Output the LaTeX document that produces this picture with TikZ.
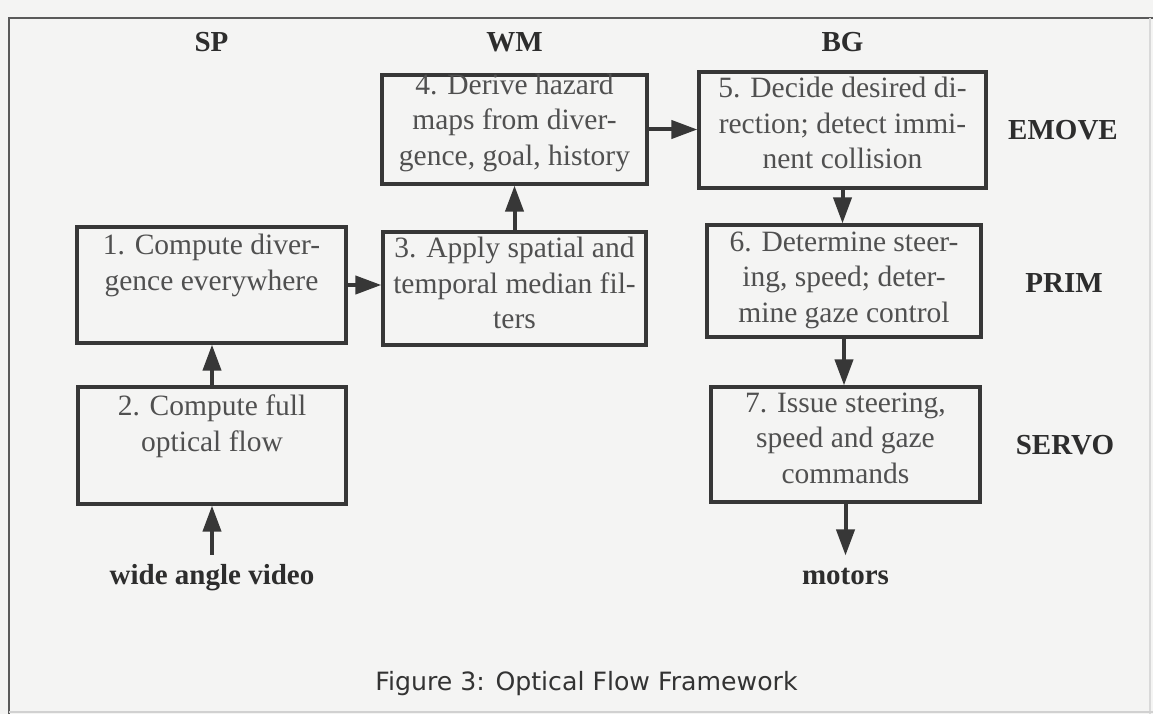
\documentclass[tikz,border=0pt]{standalone}
\usepackage{fontspec}
\setmainfont{Liberation Serif}
\newfontfamily\capfont{DejaVu Sans}
\usetikzlibrary{arrows.meta,calc}
\definecolor{bgc}{RGB}{244,244,243}
\definecolor{boxc}{RGB}{55,55,55}
\definecolor{txtc}{RGB}{80,80,80}
\definecolor{lblc}{RGB}{45,45,45}
\definecolor{framec}{RGB}{90,90,90}
\begin{document}
\begin{tikzpicture}[x=1pt,y=-1pt,
  stepbox/.style={draw=boxc, line width=3.2pt, inner sep=0pt},
  boxtext/.style={anchor=north, inner sep=0pt, align=center, text=txtc,
    font=\fontsize{29.5}{35.5}\selectfont},
  lbl/.style={anchor=base, inner sep=0pt, text=lblc,
    font=\fontsize{29}{35}\selectfont\bfseries},
  arr/.style={draw=boxc, line width=4pt, -{Triangle[length=26pt,width=18pt]}},
]
% background and bounding box
\fill[bgc] (0,0) rectangle (1153,714);
\useasboundingbox (0,0) rectangle (1153,714);
% frame
\draw[framec, line width=2pt] (9,714) -- (9,18) -- (1153,18);
\draw[black!15, line width=1.5pt] (1150,18) -- (1150,714);
\draw[black!18, line width=1.5pt] (9,712) -- (1153,712);

% column headers
\node[lbl] (hsp) at (211.5,52) {SP};
\node[lbl] (hwm) at (514.5,52) {WM};
\node[lbl] (hbg) at (842.5,52) {BG};

% row labels
\node[lbl] (hemove) at (1063,139.5) {EMOVE};
\node[lbl] (hprim) at (1064,292.5) {PRIM};
\node[lbl] (hservo) at (1065,454.5) {SERVO};

% boxes
\node[stepbox, minimum width=269pt, minimum height=116pt] (b1) at (211.5,285) {};
\node[stepbox, minimum width=268pt, minimum height=117pt] (b2) at (212,445.5) {};
\node[stepbox, minimum width=263pt, minimum height=113pt] (b3) at (514.5,288.5) {};
\node[stepbox, minimum width=265pt, minimum height=109pt] (b4) at (514.5,129.5) {};
\node[stepbox, minimum width=287pt, minimum height=116pt] (b5) at (842.5,130) {};
\node[stepbox, minimum width=274pt, minimum height=112pt] (b6) at (844,281) {};
\node[stepbox, minimum width=269pt, minimum height=115pt] (b7) at (845.5,444.5) {};

% box texts
\node[boxtext] (t1) at ($(b1.north)+(0,4.5)$) {\strut 1. Compute diver-\\gence everywhere};
\node[boxtext] (t2) at ($(b2.north)+(0,5.5)$) {\strut 2. Compute full\\optical flow};
\node[boxtext] (t3) at ($(b3.north)+(0,2.5)$) {\strut 3. Apply spatial and\\temporal median fil-\\ters};
\node[boxtext] (t4) at ($(b4.north)+(0,-4)$) {\strut 4. Derive hazard\\maps from diver-\\gence, goal, history};
\node[boxtext] (t5) at ($(b5.north)+(0,2.5)$) {\strut 5. Decide desired di-\\rection; detect immi-\\nent collision};
\node[boxtext] (t6) at ($(b6.north)+(0,3)$) {\strut 6. Determine steer-\\ing, speed; deter-\\mine gaze control};
\node[boxtext] (t7) at ($(b7.north)+(0,2)$) {\strut 7. Issue steering,\\speed and gaze\\commands};

% input / output labels
\node[lbl, inner ysep=9pt] (wva) at (212,584) {wide angle video};
\node[lbl, inner ysep=12pt] (mot) at (845.5,584) {motors};

% connectors
\draw[arr] (wva.north) -- (wva.north |- b2.south);
\draw[arr] (b2.north) -- (b2.north |- b1.south);
\draw[arr] (b1.east) -- (b1.east -| b3.west);
\draw[arr] (b3.north) -- (b3.north |- b4.south);
\draw[arr] (b4.east) -- (b4.east -| b5.west);
\draw[arr] (b5.south) -- (b5.south |- b6.north);
\draw[arr] (b6.south) -- (b6.south |- b7.north);
\draw[arr] (b7.south) -- (b7.south |- mot.north);

% caption
\node[anchor=base, inner sep=0pt, text=black!80, font=\capfont\fontsize{25.2}{30}\selectfont] (cap) at (586.5,690) {Figure 3: Optical Flow Framework};
\end{tikzpicture}
\end{document}
